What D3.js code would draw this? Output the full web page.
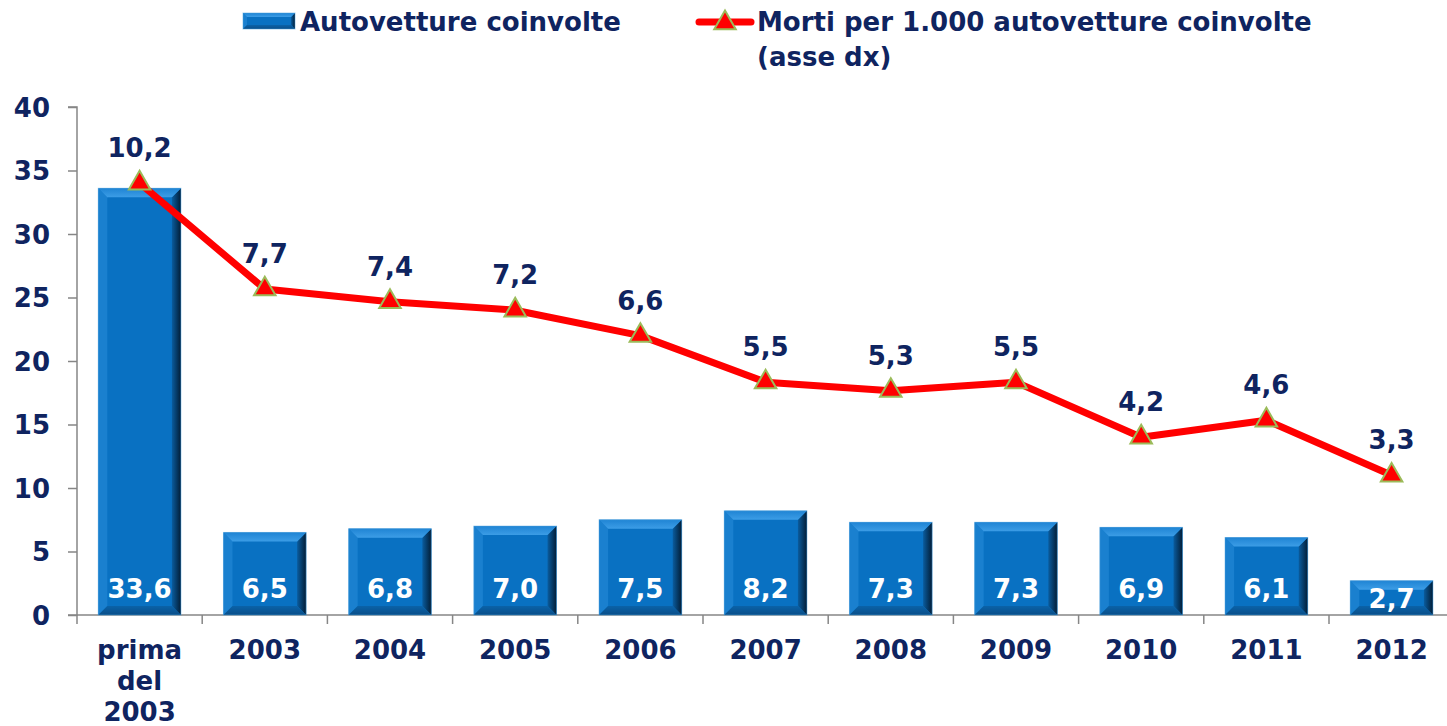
<!DOCTYPE html>
<html>
<head>
<meta charset="utf-8">
<script src="https://cdn.jsdelivr.net/npm/d3@7"></script>
<style>
  body { margin: 0; background: #fff; }
  svg { display: block; }
  text { font-family: "DejaVu Sans", Verdana, sans-serif; font-weight: bold; }
</style>
</head>
<body>
<svg></svg>
<script>
var width = 1447, height = 726;

// data
var categories = ["prima del 2003", "2003", "2004", "2005", "2006", "2007", "2008", "2009", "2010", "2011", "2012"];
var autovetture = [33.6, 6.5, 6.8, 7.0, 7.5, 8.2, 7.3, 7.3, 6.9, 6.1, 2.7];
var morti = [10.2, 7.7, 7.4, 7.2, 6.6, 5.5, 5.3, 5.5, 4.2, 4.6, 3.3];
var leftTicks = [0, 5, 10, 15, 20, 25, 30, 35, 40];

var navy = "#0f2460", red = "#ff0000", grey = "#868686";
var fmt = function(v) { return v.toFixed(1).replace(".", ","); };

var svg = d3.select("svg")
	.attr("width", width)
	.attr("height", height);

var x0 = 77, y0 = 615, yTop = 107;

var x = d3.scaleBand()
	.domain(categories)
	.range([x0, x0 + 11 * 125.2])
	.paddingInner(0.34)
	.paddingOuter(0.17);

var y = d3.scaleLinear().domain([0, 40]).range([y0, yTop]);
var yRight = d3.scaleLinear().domain([0, 12]).range([y0, yTop]);

// gradients for bevelled bars
var defs = svg.append("defs");
var gRight = defs.append("linearGradient").attr("id", "barRight");
gRight.append("stop").attr("offset", "0%").attr("stop-color", "#0a5c9e");
gRight.append("stop").attr("offset", "100%").attr("stop-color", "#021d36");
var gTop = defs.append("linearGradient").attr("id", "barTop")
	.attr("x1", 0).attr("y1", 0).attr("x2", 0).attr("y2", 1);
gTop.append("stop").attr("offset", "0%").attr("stop-color", "#1f84d4");
gTop.append("stop").attr("offset", "100%").attr("stop-color", "#3c9de6");
var gBot = defs.append("linearGradient").attr("id", "barBot")
	.attr("x1", 0).attr("y1", 0).attr("x2", 0).attr("y2", 1);
gBot.append("stop").attr("offset", "0%").attr("stop-color", "#0a62a8");
gBot.append("stop").attr("offset", "100%").attr("stop-color", "#0a4e88");

function bevelBar(g, bx, by, bw, bh, b) {
	g.append("rect")
		.attr("x", bx).attr("y", by).attr("width", bw).attr("height", bh)
		.attr("fill", "#0971c2");
	// left
	g.append("path")
		.attr("d", "M" + bx + "," + by + "L" + (bx + b) + "," + (by + b) + "V" + (by + bh - b) +
			"L" + bx + "," + (by + bh) + "Z")
		.attr("fill", "#1a80cf");
	// right
	g.append("path")
		.attr("d", "M" + (bx + bw) + "," + by + "V" + (by + bh) + "L" + (bx + bw - b) + "," + (by + bh - b) +
			"V" + (by + b) + "Z")
		.attr("fill", "url(#barRight)");
	// bottom
	g.append("path")
		.attr("d", "M" + bx + "," + (by + bh) + "H" + (bx + bw) + "L" + (bx + bw - b) + "," + (by + bh - b) +
			"H" + (bx + b) + "Z")
		.attr("fill", "url(#barBot)");
	// top
	g.append("path")
		.attr("d", "M" + bx + "," + by + "H" + (bx + bw) + "L" + (bx + bw - b) + "," + (by + b) +
			"H" + (bx + b) + "Z")
		.attr("fill", "url(#barTop)");
	g.append("rect")
		.attr("x", bx).attr("y", by).attr("width", bw).attr("height", bh)
		.attr("fill", "none").attr("stroke", "#4a9fde").attr("stroke-width", 1).attr("opacity", 0.5);
}

// axes
svg.append("g")
	.attr("transform", "translate(" + x0 + ",0)")
	.call(d3.axisLeft(y).tickValues(leftTicks).tickSize(9).tickPadding(18))
	.call(function(g) {
		g.selectAll("line, path").attr("stroke", grey).attr("stroke-width", 1.5);
		g.select(".domain").attr("d", "M-9," + yTop + "H0V" + y0 + "H-9");
		g.selectAll("text").attr("fill", navy).style("font-size", "26px")
			.attr("dy", "0.36em");
	});

var xAxis = svg.append("g").attr("transform", "translate(0," + y0 + ")");
xAxis.append("line")
	.attr("x1", x0).attr("x2", width)
	.attr("stroke", grey).attr("stroke-width", 1.5);
xAxis.selectAll(".tk")
	.data(d3.range(12))
	.enter()
	.append("line")
	.attr("x1", function(i) { return x0 + i * x.step(); })
	.attr("x2", function(i) { return x0 + i * x.step(); })
	.attr("y1", 0).attr("y2", 9)
	.attr("stroke", grey).attr("stroke-width", 1.5);

var catLabel = svg.append("g").selectAll("text")
	.data(categories)
	.enter()
	.append("text")
	.attr("text-anchor", "middle")
	.attr("fill", navy)
	.style("font-size", "26px");
catLabel.each(function(d) {
	var words = d === "prima del 2003" ? ["prima", "del", "2003"] : [d];
	var t = d3.select(this);
	words.forEach(function(w, i) {
		t.append("tspan")
			.attr("x", x(d) + x.bandwidth() / 2)
			.attr("y", 659 + i * 31)
			.text(w);
	});
});

// bars
svg.append("g").selectAll("g")
	.data(autovetture)
	.enter()
	.append("g")
	.each(function(v, i) {
		var by = y(v), bh = y0 - by;
		bevelBar(d3.select(this), x(categories[i]), by, x.bandwidth(), bh, Math.min(9, bh / 3));
	});

svg.append("g").selectAll("text")
	.data(autovetture)
	.enter()
	.append("text")
	.attr("x", function(d, i) { return x(categories[i]) + x.bandwidth() / 2; })
	.attr("y", function(d) { return Math.max(y0 - 17, y(d) + 27); })
	.attr("text-anchor", "middle")
	.attr("fill", "#fff")
	.style("font-size", "26px")
	.text(fmt);

// line
var line = d3.line()
	.x(function(d, i) { return x(categories[i]) + x.bandwidth() / 2; })
	.y(function(d) { return yRight(d); });

svg.append("path")
	.datum(morti)
	.attr("d", line)
	.attr("fill", "none")
	.attr("stroke", red)
	.attr("stroke-width", 7)
	.attr("stroke-linejoin", "round");

var tri = d3.symbol().type(d3.symbolTriangle).size(200);

svg.append("g").selectAll("path")
	.data(morti)
	.enter()
	.append("path")
	.attr("d", tri)
	.attr("transform", function(d, i) {
		return "translate(" + (x(categories[i]) + x.bandwidth() / 2) + "," + yRight(d) + ")";
	})
	.attr("fill", red)
	.attr("stroke", "#9bbb59")
	.attr("stroke-width", 2);

svg.append("g").selectAll("text")
	.data(morti)
	.enter()
	.append("text")
	.attr("x", function(d, i) { return x(categories[i]) + x.bandwidth() / 2; })
	.attr("y", function(d) { return yRight(d) - 26; })
	.attr("text-anchor", "middle")
	.attr("fill", navy)
	.style("font-size", "26px")
	.text(fmt);

// legend
var legend = svg.append("g");
bevelBar(legend, 243, 13, 52, 16, 4);
legend.append("text")
	.attr("x", 300).attr("y", 31)
	.attr("fill", navy).style("font-size", "26px")
	.text("Autovetture coinvolte");

legend.append("line")
	.attr("x1", 699).attr("x2", 751).attr("y1", 22).attr("y2", 22)
	.attr("stroke", red).attr("stroke-width", 7).attr("stroke-linecap", "round");
legend.append("path")
	.attr("d", tri)
	.attr("transform", "translate(725,23)")
	.attr("fill", red).attr("stroke", "#9bbb59").attr("stroke-width", 2);
var lt = legend.append("text")
	.attr("fill", navy).style("font-size", "26px");
lt.append("tspan").attr("x", 757).attr("y", 31).text("Morti per 1.000 autovetture coinvolte");
lt.append("tspan").attr("x", 757).attr("y", 66).text("(asse dx)");
</script>
</body>
</html>
